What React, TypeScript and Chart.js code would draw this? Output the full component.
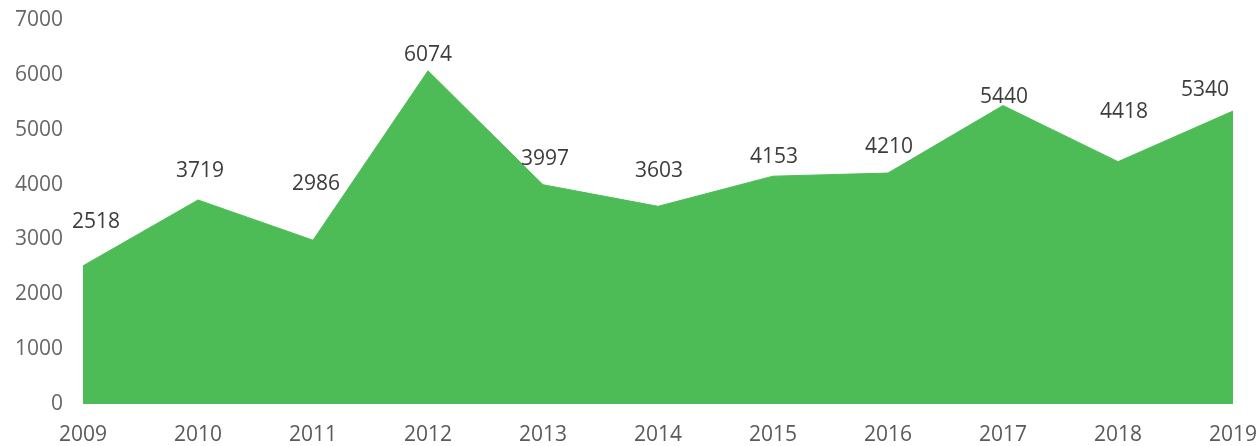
import React, { useEffect, useRef } from "react";
import { Chart, registerables } from "chart.js";

Chart.register(...registerables);

const years = ["2009", "2010", "2011", "2012", "2013", "2014", "2015", "2016", "2017", "2018", "2019"];
const values = [2518, 3719, 2986, 6074, 3997, 3603, 4153, 4210, 5440, 4418, 5340];
const yTicks = [0, 1000, 2000, 3000, 4000, 5000, 6000, 7000];

// label placement (pixels relative to the point): [dx, dy]
const labelShifts: [number, number][] = [
  [13, -44], [2, -29], [3, -56], [0, -16], [2, -26], [1, -35],
  [1, -19], [1, -26], [1, -9], [6, -50], [-28, -21],
];

const FONT = '"Open Sans", "Noto Sans", sans-serif';

const dataLabelPlugin = {
  id: "valueLabels",
  afterDatasetsDraw(chart: any) {
    const ctx = chart.ctx;
    const meta = chart.getDatasetMeta(0);
    ctx.save();
    ctx.font = `21px ${FONT}`;
    ctx.fillStyle = "#3c3c3c";
    ctx.textAlign = "center";
    ctx.textBaseline = "middle";
    meta.data.forEach((pt: any, i: number) => {
      const s = labelShifts[i] || [0, -25];
      ctx.fillText(String(values[i]), pt.x + s[0], pt.y + s[1]);
    });
    ctx.restore();
  },
};

export default function App() {
  const ref = useRef<HTMLCanvasElement | null>(null);
  useEffect(() => {
    if (!ref.current) return;
    const chart = new Chart(ref.current, {
      type: "line",
      data: {
        labels: years,
        datasets: [
          {
            data: values,
            fill: "origin",
            backgroundColor: "#4DBC57",
            borderColor: "#4DBC57",
            borderWidth: 1,
            pointRadius: 0,
            tension: 0,
          },
        ],
      },
      options: {
        responsive: false,
        animation: false,
        layout: { padding: { top: 20, right: 25, left: 0, bottom: 0 } },
        plugins: { legend: { display: false }, tooltip: { enabled: false } },
        scales: {
          x: {
            offset: false,
            afterFit: (axis: any) => {
              axis.height = 42;
              axis.paddingLeft = 0;
              axis.paddingRight = 0;
            },
            grid: { display: false, drawTicks: false },
            border: { display: false },
            ticks: {
              color: "#5a5a5a",
              font: { family: FONT, size: 21 },
              padding: 18,
              maxRotation: 0,
              autoSkip: false,
            },
          },
          y: {
            min: 0,
            max: 7000,
            afterBuildTicks: (axis: any) => {
              axis.ticks = yTicks.map((v) => ({ value: v }));
            },
            afterFit: (axis: any) => {
              axis.width = 83;
              axis.paddingTop = 0;
              axis.paddingBottom = 0;
            },
            grid: { display: false, drawTicks: false },
            border: { display: false },
            ticks: {
              color: "#666666",
              font: { family: FONT, size: 21 },
              padding: 20,
              callback: (v: any) => String(v),
            },
          },
        },
      },
      plugins: [dataLabelPlugin],
    });
    return () => chart.destroy();
  }, []);
  return (
    <div style={{ position: "fixed", left: 0, top: 0, width: 1258, height: 446, overflow: "hidden", background: "#fff" }}>
      <canvas ref={ref} width={1258} height={446} />
    </div>
  );
}
